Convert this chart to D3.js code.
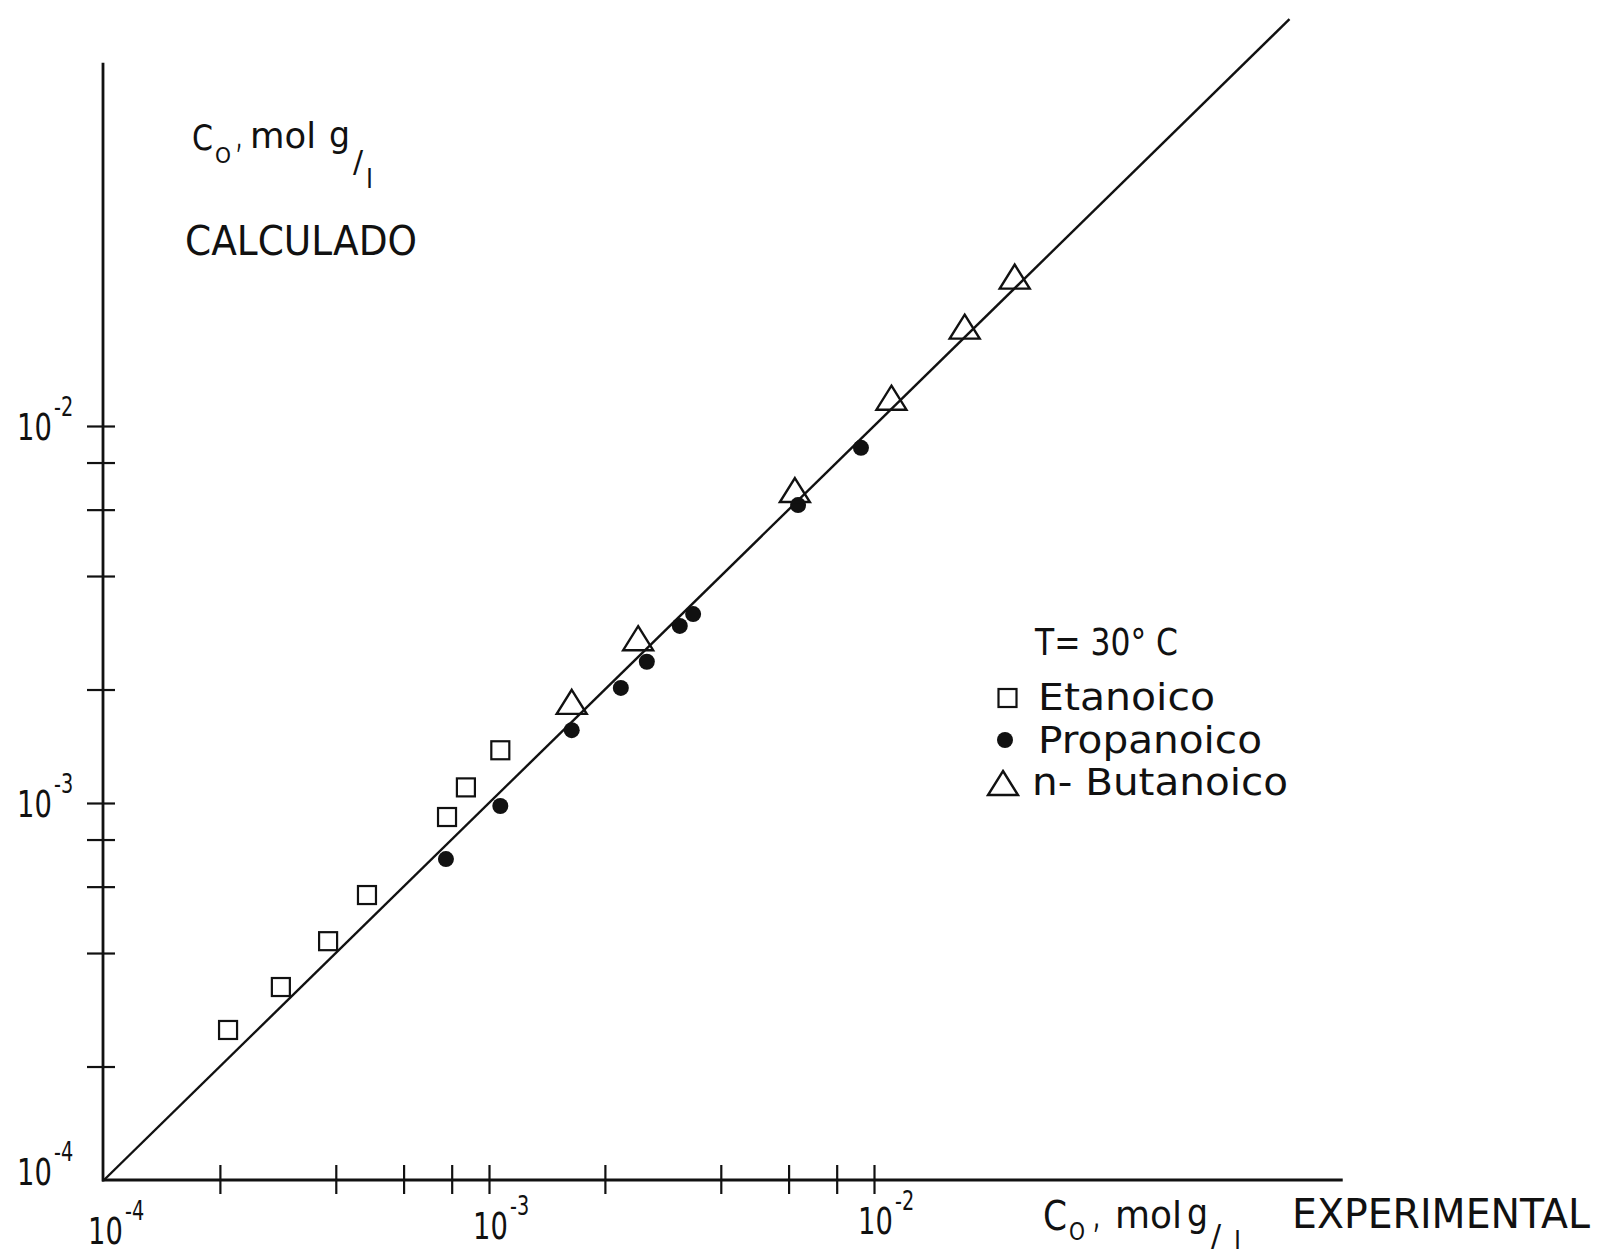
<!DOCTYPE html>
<html>
<head>
<meta charset="utf-8">
<script src="https://cdn.jsdelivr.net/npm/d3@7"></script>
<style>
  html, body { margin: 0; padding: 0; background: #fff; }
  svg { display: block; }
</style>
</head>
<body>
<div id="chart"></div>
<script>
// Concentration C0 (mol g/l): experimental (x) vs calculated (y), T = 30 °C
const seriesNames = ["Etanoico", "Propanoico", "n- Butanoico"];

const etanoicoExp  = [2.10e-4, 2.88e-4, 3.82e-4, 4.82e-4, 7.78e-4, 8.71e-4, 1.07e-3];
const etanoicoCalc = [2.50e-4, 3.25e-4, 4.30e-4, 5.70e-4, 9.18e-4, 1.10e-3, 1.38e-3];

const propanoicoExp  = [7.73e-4, 1.07e-3, 1.64e-3, 2.20e-3, 2.57e-3, 3.13e-3, 3.39e-3, 6.35e-3, 9.25e-3];
const propanoicoCalc = [7.10e-4, 9.82e-4, 1.56e-3, 2.02e-3, 2.37e-3, 2.95e-3, 3.17e-3, 6.17e-3, 8.75e-3];

const butanoicoExp  = [1.64e-3, 2.44e-3, 6.23e-3, 1.11e-2, 1.72e-2, 2.32e-2];
const butanoicoCalc = [1.81e-3, 2.67e-3, 6.60e-3, 1.16e-2, 1.79e-2, 2.43e-2];

// axis ticks (2, 4, 6, 8 per decade) and decade labels
const xTickValues = [2e-4, 4e-4, 6e-4, 8e-4, 1e-3, 2e-3, 4e-3, 6e-3, 8e-3, 1e-2];
const yTickValues = [2e-4, 4e-4, 6e-4, 8e-4, 1e-3, 2e-3, 4e-3, 6e-3, 8e-3, 1e-2];
const decadeValues = [1e-4, 1e-3, 1e-2];
const decadeExponents = ["-4", "-3", "-2"];

// extent of the drawn axes and of the y = x line
const xAxisMax = 0.165;
const yAxisMax = 0.092;
const parityLine = [1e-4, 0.12];

const W = 1601, H = 1255;
const ink = "#111";
const FONT = "'DejaVu Sans', 'Liberation Sans', sans-serif";

const svg = d3.select("#chart").append("svg")
  .attr("width", W).attr("height", H)
  .attr("viewBox", `0 0 ${W} ${H}`);
svg.append("rect").attr("width", W).attr("height", H).attr("fill", "#fff");

const x = d3.scaleLog().domain([1e-4, 1e-2]).range([104, 874]);
const y = d3.scaleLog().domain([1e-4, 1e-2]).range([1180, 426]);

function label(g, str, px, py, size, len, anchor) {
  const t = g.append("text")
    .attr("x", px).attr("y", py)
    .attr("font-family", FONT)
    .attr("font-size", size)
    .attr("fill", ink)
    .attr("text-anchor", anchor || "start")
    .text(str);
  if (len) t.attr("textLength", len).attr("lengthAdjust", "spacingAndGlyphs");
  return t;
}

// "10" with a raised exponent, drawn in narrow lettering
function power(g, exponent, px, py) {
  const t = g.append("text")
    .attr("transform", `translate(${px},${py}) scale(0.74,1)`)
    .attr("font-family", FONT)
    .attr("fill", ink);
  t.append("tspan").attr("font-size", 37).text("10");
  t.append("tspan").attr("font-size", 26).attr("dx", 3).attr("dy", -24).text(exponent);
  return t;
}

// ---- axes ----
const axes = svg.append("g");

axes.append("line")
  .attr("x1", x(1e-4) - 2).attr("x2", x(xAxisMax))
  .attr("y1", y(1e-4)).attr("y2", y(1e-4))
  .attr("stroke", ink).attr("stroke-width", 2.8);
axes.append("line")
  .attr("x1", x(1e-4) - 1).attr("x2", x(1e-4) - 1)
  .attr("y1", y(1e-4) + 1.5).attr("y2", y(yAxisMax))
  .attr("stroke", ink).attr("stroke-width", 2.8);

const gx = axes.append("g")
  .attr("transform", `translate(0,${y(1e-4)})`)
  .call(d3.axisBottom(x).tickValues(xTickValues).tickFormat("").tickSize(14));
gx.select(".domain").remove();
gx.selectAll(".tick line")
  .attr("y1", -15).attr("y2", 14)
  .attr("stroke", ink).attr("stroke-width", 2.2);

const gy = axes.append("g")
  .attr("transform", `translate(${x(1e-4) - 1},0)`)
  .call(d3.axisLeft(y).tickValues(yTickValues).tickFormat("").tickSize(16));
gy.select(".domain").remove();
gy.selectAll(".tick line")
  .attr("x1", -16).attr("x2", 12)
  .attr("stroke", ink).attr("stroke-width", 2.2);

// decade labels
decadeValues.forEach((v, i) => {
  const k = Math.log10(v) + 4;
  power(axes, decadeExponents[i], x(v) - 16, 1244 - k * 5);
  power(axes, decadeExponents[i], 17, v === 1e-4 ? y(v) + 5 : y(v) + 14);
});

// ---- y = x line ----
svg.append("line")
  .attr("x1", x(parityLine[0])).attr("y1", y(parityLine[0]))
  .attr("x2", x(parityLine[1])).attr("y2", y(parityLine[1]))
  .attr("stroke", ink).attr("stroke-width", 2.4);

// ---- markers ----
const SQ = 18, CR = 8, TW = 30, TH = 24;
const trianglePath = `M0,${-2 * TH / 3}L${TW / 2},${TH / 3}L${-TW / 2},${TH / 3}Z`;

const marks = svg.append("g");

marks.selectAll("rect.et")
  .data(d3.zip(etanoicoExp, etanoicoCalc))
  .join("rect").attr("class", "et")
  .attr("x", d => x(d[0]) - SQ / 2).attr("y", d => y(d[1]) - SQ / 2)
  .attr("width", SQ).attr("height", SQ)
  .attr("fill", "#fff").attr("stroke", ink).attr("stroke-width", 2.2);

marks.selectAll("circle.pr")
  .data(d3.zip(propanoicoExp, propanoicoCalc))
  .join("circle").attr("class", "pr")
  .attr("cx", d => x(d[0])).attr("cy", d => y(d[1]))
  .attr("r", CR).attr("fill", ink);

marks.selectAll("path.bu")
  .data(d3.zip(butanoicoExp, butanoicoCalc))
  .join("path").attr("class", "bu")
  .attr("transform", d => `translate(${x(d[0])},${y(d[1])})`)
  .attr("d", trianglePath)
  .attr("fill", "none").attr("stroke", ink)
  .attr("stroke-width", 2.4).attr("stroke-linejoin", "miter");

// ---- axis titles ----
const titles = svg.append("g");

// y title: C0, mol g/l  CALCULADO
label(titles, "C", 192, 150, 36, 21);
label(titles, "O", 215, 163, 22, 16);
label(titles, ",", 236, 148, 34, 6);
label(titles, "mol", 250, 148, 36, 66);
label(titles, "g", 329, 147, 36, 21);
label(titles, "/", 353, 172, 30);
label(titles, "l", 366, 188, 26, 7);
label(titles, "CALCULADO", 185, 255, 41, 232);

// x title: C0, mol g/l  EXPERIMENTAL
label(titles, "C", 1043, 1230, 40, 24);
label(titles, "O", 1069, 1240, 24, 16);
label(titles, ",", 1093, 1228, 36, 7);
label(titles, "mol", 1115, 1228, 38, 67);
label(titles, "g", 1187, 1226, 38, 21);
label(titles, "/", 1211, 1246, 30);
label(titles, "l", 1234, 1249, 24, 7);
label(titles, "EXPERIMENTAL", 1292, 1228, 40, 298);

// ---- legend ----
const legend = svg.append("g");
label(legend, "T= 30° C", 1035, 655, 37, 143);

legend.append("rect")
  .attr("x", 1007 - SQ / 2 + 0.5).attr("y", 698 - SQ / 2)
  .attr("width", SQ).attr("height", SQ)
  .attr("fill", "#fff").attr("stroke", ink).attr("stroke-width", 2.2);
label(legend, seriesNames[0], 1038, 710, 38, 177);

legend.append("circle")
  .attr("cx", 1005).attr("cy", 740).attr("r", CR).attr("fill", ink);
label(legend, seriesNames[1], 1038, 753, 38, 224);

legend.append("path")
  .attr("transform", `translate(1003,${795 - TH / 3})`)
  .attr("d", trianglePath)
  .attr("fill", "none").attr("stroke", ink).attr("stroke-width", 2.4);
label(legend, seriesNames[2], 1032, 795, 38, 256);
</script>
</body>
</html>
